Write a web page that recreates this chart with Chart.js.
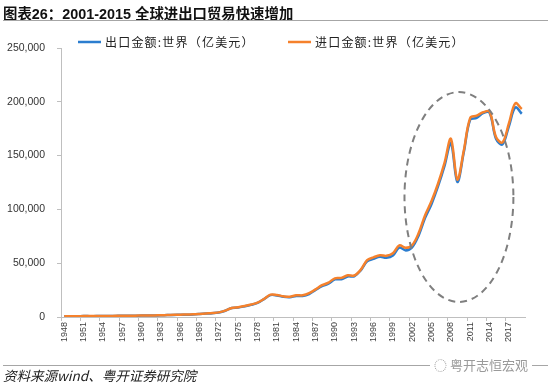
<!DOCTYPE html>
<html>
<head>
<meta charset="utf-8">
<script src="https://cdn.jsdelivr.net/npm/chart.js@4.4.0/dist/chart.umd.min.js"></script>
<style>
  body { margin: 0; background: #fff; }
  #wrap { position: relative; width: 550px; height: 386px; overflow: hidden;
          font-family: "Liberation Sans", "Noto Sans CJK SC", sans-serif; }
  #title { position: absolute; left: 3px; top: 2px; font-size: 14.4px; font-weight: bold; color: #111; white-space: nowrap; }
  .rule { position: absolute; left: 3px; width: 545px; height: 1px; background: #a6a6a6; }
  #source { position: absolute; left: 3px; top: 367px; font-size: 13.5px; font-style: italic; color: #222; white-space: nowrap;
            font-family: "Noto Sans CJK SC", sans-serif; line-height: 16px; }
  #mark { position: absolute; left: 430px; top: 357px; font-size: 13px; color: #9a9a9a; background: #fff; padding: 0 4px;
          font-family: "Noto Sans CJK SC", sans-serif; line-height: 16px; white-space: nowrap; }
  canvas { position: absolute; left: 0; top: 0; }
</style>
</head>
<body>
<div id="wrap">
  <canvas id="tradeChart" width="550" height="386"></canvas>
  <div id="title">图表26：2001-2015 全球进出口贸易快速增加</div>
  <div class="rule" style="top:20px"></div>
  <div class="rule" style="top:365px"></div>
  <div id="mark">◌ 粤开志恒宏观</div>
  <div id="source">资料来源wind、粤开证券研究院</div>
</div>
<script>
// DATA (亿美元)
const years = Array.from({ length: 72 }, (_, i) => String(1948 + i));

const exportsWorld = [
  590, 585, 620, 820, 800, 830, 860, 940, 1040, 1120, 1080, 1160,
  1300, 1350, 1420, 1570, 1760, 1900, 2070, 2180, 2420, 2770,
  3170, 3540, 4190, 5790, 8390, 8770, 9920, 11280, 13070, 16590,
  20360, 20080, 18830, 18460, 19560, 19540, 21380, 25160, 28690, 30980,
  34950, 35150, 37690, 37830, 43260, 51720, 54030, 55920, 55030, 57190,
  64520, 61910, 64920, 75860, 92180, 105090, 121310, 140230, 161600, 125550,
  153010, 183380, 184960, 189500, 189950, 165520, 160410, 177300, 194750, 188900
];

const importsWorld = [
  660, 630, 640, 860, 840, 820, 860, 960, 1060, 1170, 1120, 1200,
  1370, 1420, 1500, 1650, 1830, 1990, 2170, 2290, 2530, 2890,
  3290, 3670, 4310, 5940, 8400, 9120, 10160, 11580, 13360, 16780,
  20750, 20470, 19230, 18760, 20130, 20160, 22110, 25700, 29540, 31920,
  35950, 36330, 38830, 38550, 43850, 52850, 55450, 57380, 56830, 59240,
  66550, 64260, 66850, 77980, 94590, 107750, 123860, 142990, 165720, 127810,
  154460, 185020, 187130, 190260, 190870, 167350, 162180, 179840, 198670, 193280
];

const seriesNames = ['出口金额:世界（亿美元）', '进口金额:世界（亿美元）'];
const seriesColors = ['#2b7dcf', '#f5812c'];

// highlighted period (years / values) for the dashed ellipse
const highlightYears = [2000.8, 2017.7];
const highlightValues = [14000, 209000];

const axisGray = '#bfbfbf';

// legend drawn on the canvas, reading names/colours from the datasets
const lineLegend = {
  id: 'lineLegend',
  afterDraw(chart) {
    const { ctx } = chart;
    const startX = [78, 288];
    const y = 42;
    ctx.save();
    ctx.font = '12px "Noto Sans CJK SC"';
    ctx.letterSpacing = '1.2px';
    ctx.textBaseline = 'middle';
    chart.data.datasets.forEach((ds, i) => {
      ctx.strokeStyle = ds.borderColor;
      ctx.lineWidth = 2.5;
      ctx.beginPath();
      ctx.moveTo(startX[i], y);
      ctx.lineTo(startX[i] + 23, y);
      ctx.stroke();
      ctx.fillStyle = '#222';
      ctx.fillText(ds.label, startX[i] + 27, y);
    });
    ctx.restore();
  }
};

const dashedEllipse = {
  id: 'dashedEllipse',
  afterDatasetsDraw(chart) {
    const { ctx, scales: { x, y } } = chart;
    const x1 = x.getPixelForValue(highlightYears[0] - 1948);
    const x2 = x.getPixelForValue(highlightYears[1] - 1948);
    const y1 = y.getPixelForValue(highlightValues[1]);
    const y2 = y.getPixelForValue(highlightValues[0]);
    ctx.save();
    ctx.strokeStyle = '#7f7f7f';
    ctx.lineWidth = 2;
    ctx.setLineDash([7, 5]);
    ctx.beginPath();
    ctx.ellipse((x1 + x2) / 2, (y1 + y2) / 2, (x2 - x1) / 2, (y2 - y1) / 2, 0, 0, Math.PI * 2);
    ctx.stroke();
    ctx.restore();
  }
};

new Chart(document.getElementById('tradeChart'), {
  type: 'line',
  data: {
    labels: years,
    datasets: [{
      label: seriesNames[0],
      data: exportsWorld,
      borderColor: seriesColors[0],
      backgroundColor: seriesColors[0],
      borderWidth: 2.5,
      pointRadius: 0,
      tension: 0.35,
      order: 1
    }, {
      label: seriesNames[1],
      data: importsWorld,
      borderColor: seriesColors[1],
      backgroundColor: seriesColors[1],
      borderWidth: 2.5,
      pointRadius: 0,
      tension: 0.35,
      order: 0
    }]
  },
  options: {
    responsive: false,
    animation: false,
    layout: { padding: { top: 48, right: 25, bottom: 0, left: 0 } },
    scales: {
      x: {
        type: 'category',
        offset: true,
        afterFit(scale) { scale.height = 69; },
        grid: {
          offset: true,
          drawOnChartArea: false,
          tickLength: 4,
          tickColor: (c) => (c.index % 3 === 0 ? axisGray : 'rgba(0,0,0,0)')
        },
        border: { color: axisGray, width: 1 },
        ticks: {
          autoSkip: false,
          maxRotation: 90,
          minRotation: 90,
          padding: 1,
          color: '#404040',
          font: { family: 'Liberation Sans', size: 9 },
          callback: (v, i) => (i % 3 === 0 ? years[i] : '')
        }
      },
      y: {
        min: 0,
        max: 250000,
        afterFit(scale) { scale.width = 61; },
        grid: { drawOnChartArea: false, tickLength: 4, tickColor: axisGray },
        border: { color: axisGray, width: 1 },
        ticks: {
          stepSize: 50000,
          padding: 12,
          color: '#333',
          font: { family: 'Liberation Sans', size: 10.5 },
          callback: (v) => v.toLocaleString('en-US')
        }
      }
    },
    plugins: {
      legend: { display: false },
      tooltip: { enabled: false }
    }
  },
  plugins: [dashedEllipse, lineLegend]
});
</script>
</body>
</html>
